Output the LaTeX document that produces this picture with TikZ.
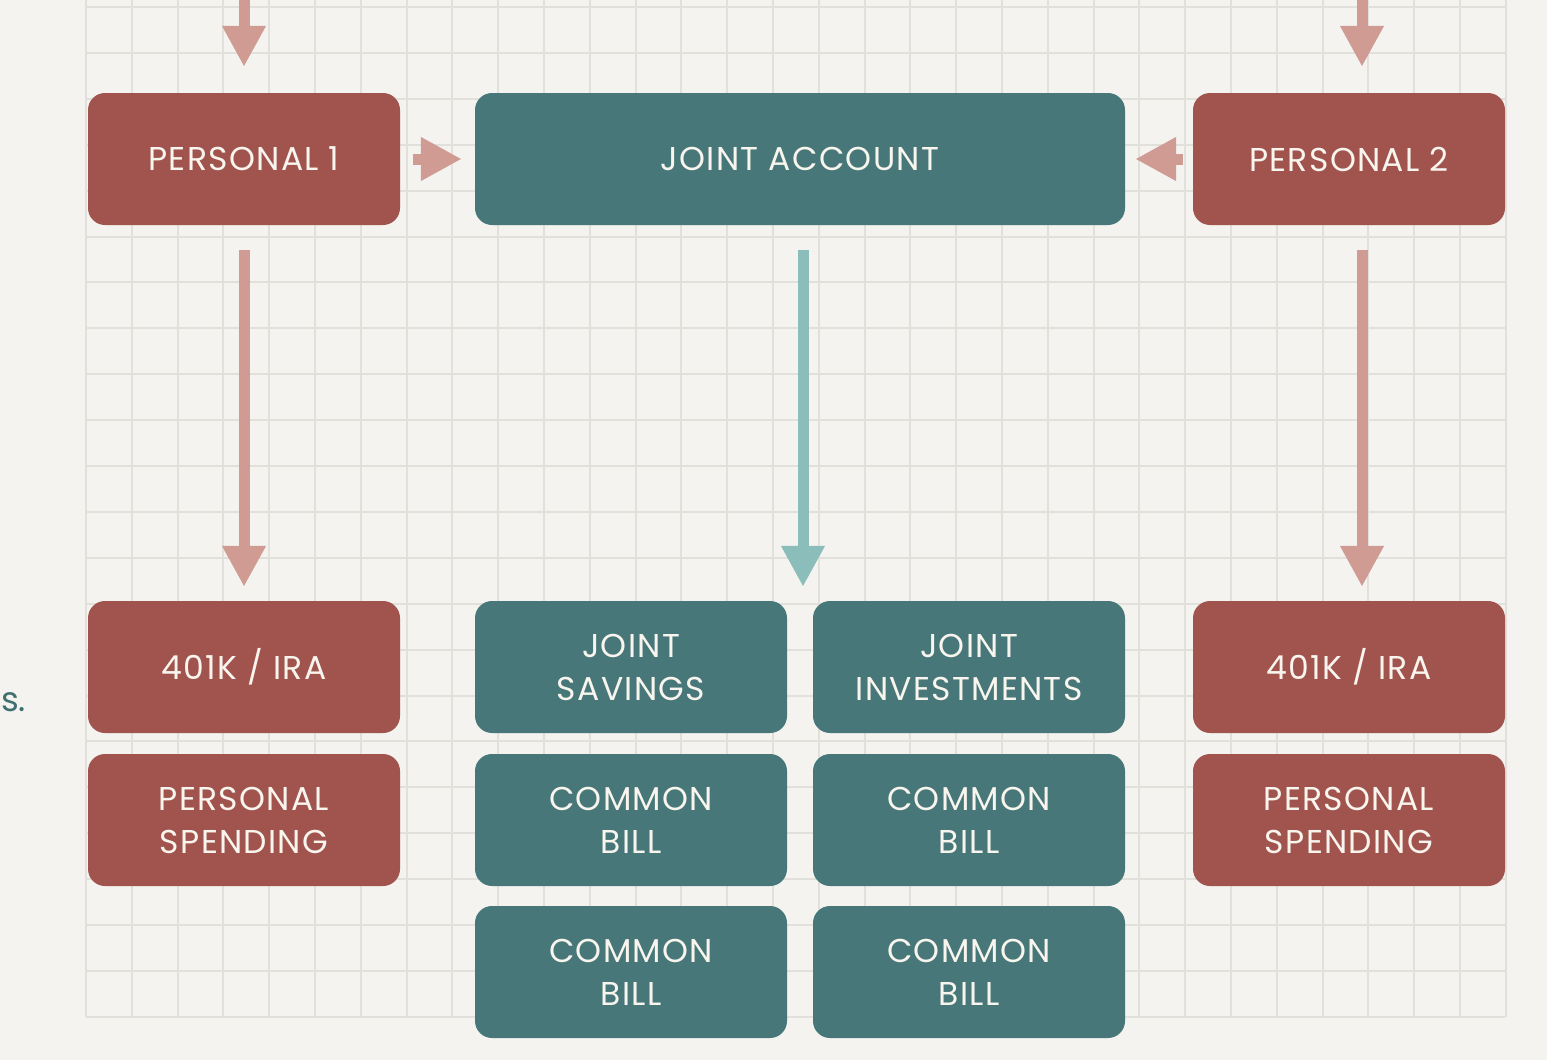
\documentclass[tikz,border=0pt]{standalone}
\usepackage{fontspec}
\setmainfont{Poppins}
\newfontfamily\boxfont[LetterSpace=4]{Poppins}
\usetikzlibrary{arrows.meta}
\definecolor{bgcol}{HTML}{F4F3EF}
\definecolor{gridcol}{HTML}{E1E0DB}
\definecolor{redbox}{HTML}{A1544E}
\definecolor{tealbox}{HTML}{477778}
\definecolor{pinkarrow}{HTML}{CF9B92}
\definecolor{tealarrow}{HTML}{8BBEBB}
\definecolor{boxtext}{HTML}{F8F5EE}
\definecolor{sidetext}{HTML}{3F7070}
\tikzset{
  acct/.style={rectangle, rounded corners=17pt, minimum width=312pt, minimum height=132pt,
    inner sep=0pt, align=center, text=boxtext, font=\boxfont\fontsize{33}{43}\selectfont},
  redacct/.style={acct, fill=redbox},
  tealacct/.style={acct, fill=tealbox},
  flow/.style={line width=11pt, -{Triangle[width=41pt,length=41pt]}},
  pinkflow/.style={flow, draw=pinkarrow, fill=pinkarrow},
  tealflow/.style={flow, draw=tealarrow, fill=tealarrow},
}
\begin{document}
\begin{tikzpicture}[x=1pt,y=-1pt]
\useasboundingbox (0,0) rectangle (1547,1060);
\fill[bgcol] (0,0) rectangle (1547,1060);
% grid
\foreach \i in {0,...,31} {
  \draw[gridcol, line width=2pt] ({86+45.8*\i},0) -- ({86+45.8*\i},1017);
}
\foreach \j in {0,...,22} {
  \draw[gridcol, line width=2pt] (86,{7+45.9*\j}) -- (1505,{7+45.9*\j});
}
% side text fragment
\node[anchor=base west, inner sep=0pt, text=sidetext, font=\fontsize{34}{40}\selectfont] (side) at (1,711) {s.};
% boxes
\node[redacct] (p1) at (244,159) {PERSONAL 1};
\node[tealacct, minimum width=650pt] (ja) at (800,159) {JOINT ACCOUNT};
\node[redacct] (p2) at (1349,159) {PERSONAL 2};
\node[redacct] (k1) at (244,667) {401K / IRA};
\node[tealacct] (js) at (631,667) {JOINT\\SAVINGS};
\node[tealacct] (ji) at (969,667) {JOINT\\INVESTMENTS};
\node[redacct] (k2) at (1349,667) {401K / IRA};
\node[redacct] (s1) at (244,820) {PERSONAL\\SPENDING};
\node[tealacct] (c1) at (631,820) {COMMON\\BILL};
\node[tealacct] (c2) at (969,820) {COMMON\\BILL};
\node[redacct] (s2) at (1349,820) {PERSONAL\\SPENDING};
\node[tealacct] (c3) at (631,972) {COMMON\\BILL};
\node[tealacct] (c4) at (969,972) {COMMON\\BILL};
% incoming from above
\coordinate (in1) at (244,-2);
\coordinate (in2) at (1362,-2);
\draw[pinkflow, shorten >=26pt] (in1) -- (p1.north);
\draw[pinkflow, shorten >=26pt] (in2) -- (in2 |- p2.north);
% into joint account
\draw[pinkflow, shorten <=13pt, shorten >=13pt] (p1.east) -- (ja.west);
\draw[pinkflow, shorten <=10pt, shorten >=10pt] (p2.west) -- (ja.east);
% downward
\draw[pinkflow, shorten <=25pt, shorten >=14pt] (p1.south) -- (k1.north);
\draw[tealflow, shorten <=25pt, shorten >=14pt] ([xshift=3pt]ja.south) -- ([xshift=3pt]ja.south |- js.north);
\draw[pinkflow, shorten <=25pt, shorten >=14pt] (in2 |- p2.south) -- (in2 |- k2.north);
\end{tikzpicture}
\end{document}
